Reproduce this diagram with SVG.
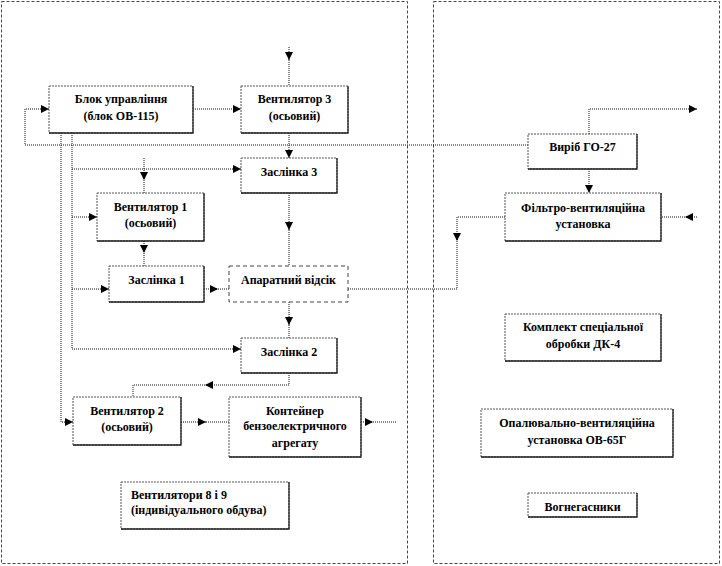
<svg xmlns="http://www.w3.org/2000/svg" width="722" height="566" viewBox="0 0 722 566">
<style>
.panel{fill:none;stroke:#444;stroke-width:1;stroke-dasharray:3 2}
.box{fill:#fff;stroke:#555;stroke-width:1;stroke-dasharray:2 1}
.sh{fill:none;stroke:#222;stroke-width:1.3}
.dash{fill:#fff;stroke:#444;stroke-width:1;stroke-dasharray:4 3}
.c{fill:none;stroke:#111;stroke-width:1;stroke-dasharray:1 1}
.t{font-family:"Liberation Serif","DejaVu Serif","Times New Roman",serif;font-weight:bold;font-size:12px;fill:#000}
.m{text-anchor:middle}
.ah{fill:#000;stroke:none}
</style>
<defs>
<marker id="a" markerUnits="userSpaceOnUse" markerWidth="10" markerHeight="10" refX="8" refY="4" orient="auto" overflow="visible">
<path class="ah" d="M0,0 L8,4 L0,8 z"/>
</marker>
</defs>
<rect width="722" height="566" fill="#fff"/>
<rect class="panel" x="1.5" y="1.5" width="406" height="562"/>
<rect class="panel" x="433.5" y="1.5" width="286" height="562"/>

<g id="connectors">
<path class="c" d="M289,47 V60" marker-end="url(#a)"/>
<path class="c" d="M289,58 V86"/>
<path class="c" d="M193,109 H241" marker-end="url(#a)"/>
<path class="c" d="M528,145 H25 V109 H49" marker-end="url(#a)"/>
<path class="c" d="M61,133 V422 H73" marker-end="url(#a)"/>
<path class="c" d="M72,133 V349 H241" marker-end="url(#a)"/>
<path class="c" d="M72,169 H241" marker-end="url(#a)"/>
<path class="c" d="M72,217 H97" marker-end="url(#a)"/>
<path class="c" d="M72,289 H109" marker-end="url(#a)"/>
<path class="c" d="M144,158 V180" marker-end="url(#a)"/>
<path class="c" d="M144,178 V193"/>
<path class="c" d="M289,133 V158" marker-end="url(#a)"/>
<path class="c" d="M289,193 V230" marker-end="url(#a)"/>
<path class="c" d="M289,228 V266"/>
<path class="c" d="M144,241 V253" marker-end="url(#a)"/>
<path class="c" d="M144,251 V266"/>
<path class="c" d="M204,289 H218" marker-end="url(#a)"/>
<path class="c" d="M216,289 H229"/>
<path class="c" d="M505,217 H457 V241" marker-end="url(#a)"/>
<path class="c" d="M457,239 V289 H348"/>
<path class="c" d="M289,302 V325" marker-end="url(#a)"/>
<path class="c" d="M289,323 V338"/>
<path class="c" d="M289,373 V385 H205" marker-end="url(#a)"/>
<path class="c" d="M207,385 H133 V397"/>
<path class="c" d="M181,422 H206" marker-end="url(#a)"/>
<path class="c" d="M204,422 H229"/>
<path class="c" d="M361,422 H373" marker-end="url(#a)"/>
<path class="c" d="M371,422 H397"/>
<path class="c" d="M589,134 V109 H697" marker-end="url(#a)"/>
<path class="c" d="M589,169 V193" marker-end="url(#a)"/>
<path class="c" d="M697,217 H685" marker-end="url(#a)"/>
<path class="c" d="M687,217 H661"/>
</g>

<g id="blok">
<rect class="box" x="49" y="86" width="144" height="47"/>
<path class="sh" d="M193,86 V133 H49"/>
<text class="t m" x="121" y="103">Блок управління</text>
<text class="t m" x="121" y="120">(блок ОВ-115)</text>
</g>
<g id="vent3">
<rect class="box" x="241" y="86" width="107" height="47"/>
<path class="sh" d="M348,86 V133 H241"/>
<text class="t m" x="294.5" y="103">Вентилятор  3</text>
<text class="t m" x="294.5" y="120">(осьовий)</text>
</g>
<g id="zasl3">
<rect class="box" x="241" y="158" width="96" height="35"/>
<path class="sh" d="M337,158 V193 H241"/>
<text class="t m" x="289" y="176">Заслінка  3</text>
</g>
<g id="vent1">
<rect class="box" x="97" y="193" width="107" height="48"/>
<path class="sh" d="M204,193 V241 H97"/>
<text class="t m" x="150.5" y="211">Вентилятор  1</text>
<text class="t m" x="150.5" y="227">(осьовий)</text>
</g>
<g id="zasl1">
<rect class="box" x="109" y="266" width="95" height="36"/>
<path class="sh" d="M204,266 V302 H109"/>
<text class="t m" x="156.5" y="284">Заслінка  1</text>
</g>
<g id="aparat">
<rect class="dash" x="229" y="266" width="119" height="36"/>
<text class="t m" x="288.5" y="284">Апаратний відсік</text>
</g>
<g id="zasl2">
<rect class="box" x="241" y="338" width="96" height="35"/>
<path class="sh" d="M337,338 V373 H241"/>
<text class="t m" x="289" y="356">Заслінка  2</text>
</g>
<g id="vent2">
<rect class="box" x="73" y="397" width="108" height="48"/>
<path class="sh" d="M181,397 V445 H73"/>
<text class="t m" x="127" y="415">Вентилятор  2</text>
<text class="t m" x="127" y="431">(осьовий)</text>
</g>
<g id="kont">
<rect class="box" x="229" y="397" width="132" height="60"/>
<path class="sh" d="M361,397 V457 H229"/>
<text class="t m" x="295" y="415">Контейнер</text>
<text class="t m" x="295" y="430">бензоелектричного</text>
<text class="t m" x="295" y="447">агрегату</text>
</g>
<g id="vent89">
<rect class="box" x="121" y="482" width="168" height="47"/>
<path class="sh" d="M289,482 V529 H121"/>
<text class="t" x="131" y="499">Вентилятори  8 і 9</text>
<text class="t" x="131" y="514">(індивідуального   обдува)</text>
</g>
<g id="vyrib">
<rect class="box" x="528" y="134" width="109" height="35"/>
<path class="sh" d="M637,134 V169 H528"/>
<text class="t m" x="582.5" y="151">Виріб ГО-27</text>
</g>
<g id="filtr">
<rect class="box" x="505" y="193" width="156" height="48"/>
<path class="sh" d="M661,193 V241 H505"/>
<text class="t m" x="583" y="212">Фільтро-вентиляційна</text>
<text class="t m" x="583" y="228">установка</text>
</g>
<g id="komplekt">
<rect class="box" x="505" y="314" width="156" height="47"/>
<path class="sh" d="M661,314 V361 H505"/>
<text class="t m" x="583" y="331">Комплект  спеціальної</text>
<text class="t m" x="583" y="348">обробки ДК-4</text>
</g>
<g id="opal">
<rect class="box" x="481" y="409" width="192" height="48"/>
<path class="sh" d="M673,409 V457 H481"/>
<text class="t m" x="577" y="427">Опалювально-вентиляційна</text>
<text class="t m" x="577" y="444">установка ОВ-65Г</text>
</g>
<g id="vogne">
<rect class="box" x="528" y="493" width="109" height="24"/>
<path class="sh" d="M637,493 V517 H528"/>
<text class="t m" x="582.5" y="511">Вогнегасники</text>
</g>
</svg>
